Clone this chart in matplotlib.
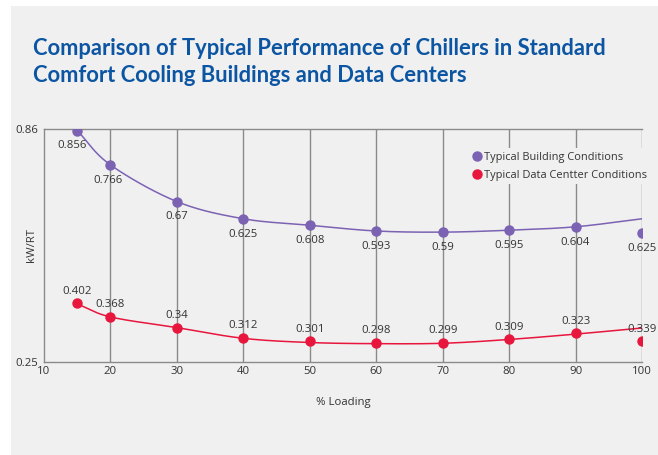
import numpy as np
import matplotlib.pyplot as plt

# data
loading = [15, 20, 30, 40, 50, 60, 70, 80, 90, 100]
building = [0.856, 0.766, 0.67, 0.625, 0.608, 0.593, 0.59, 0.595, 0.604, 0.625]
datacenter = [0.402, 0.368, 0.34, 0.312, 0.301, 0.298, 0.299, 0.309, 0.323, 0.339]
# the last markers in the original sit below the line end
building_markers = [0.856, 0.766, 0.67, 0.625, 0.608, 0.593, 0.59, 0.595, 0.604, 0.587]
datacenter_markers = [0.404, 0.369, 0.34, 0.314, 0.304, 0.301, 0.301, 0.309, 0.325, 0.305]
xticks = [10, 20, 30, 40, 50, 60, 70, 80, 90, 100]
yticks = [0.25, 0.86]

bg = "#f0f0f0"
purple = "#7b62b3"
red = "#e8163c"
grid_c = "#8a8a8a"
text_c = "#333333"
W, H = 658, 455


def smooth(x, y, n=20):
    # catmull-rom through the points, like excel's smoothed line
    x = np.asarray(x, float)
    y = np.asarray(y, float)
    px = np.concatenate([[2 * x[0] - x[1]], x, [2 * x[-1] - x[-2]]])
    py = np.concatenate([[2 * y[0] - y[1]], y, [2 * y[-1] - y[-2]]])
    xs, ys = [], []
    t = np.linspace(0, 1, n)
    for i in range(1, len(px) - 2):
        for p, out in ((px, xs), (py, ys)):
            p0, p1, p2, p3 = p[i - 1], p[i], p[i + 1], p[i + 2]
            out.extend(0.5 * (2 * p1 + (-p0 + p2) * t
                              + (2 * p0 - 5 * p1 + 4 * p2 - p3) * t ** 2
                              + (-p0 + 3 * p1 - 3 * p2 + p3) * t ** 3))
    return xs, ys


plt.rcParams['font.family'] = ['Open Sans', 'DejaVu Sans']

fig = plt.figure(figsize=(W / 100, H / 100), dpi=100, facecolor=bg)
# white strips on top and left of the grey panel
fig.patches.append(plt.Rectangle((0, 0), 11 / W, 1, transform=fig.transFigure,
                                 facecolor="white", edgecolor="none"))
fig.patches.append(plt.Rectangle((0, 1 - 6 / H), 1, 6 / H, transform=fig.transFigure,
                                 facecolor="white", edgecolor="none"))

ax = fig.add_axes([44 / W, 1 - 362 / H, 598 / W, 233 / H])
ax.set_facecolor(bg)

sx, sy = smooth(loading, building)
ax.plot(sx, sy, color=purple, lw=1.1, zorder=3)
sx, sy = smooth(loading, datacenter)
ax.plot(sx, sy, color=red, lw=1.1, zorder=3)

ax.plot(loading, building_markers, "o", color=purple, ms=6.5, zorder=4,
        label="Typical Building Conditions")
ax.plot(loading, datacenter_markers, "o", color=red, ms=6.5, zorder=4,
        label="Typical Data Centter Conditions")

for x, yl, ym in zip(loading, building, building_markers):
    ax.annotate(f"{yl:g}", (x, ym), xytext=(-4 if x < 20 else (-2 if x < 30 else 0), -11),
                textcoords="offset points", ha="center", va="center",
                fontsize=8.2, color=text_c, zorder=5)
for x, yl, ym in zip(loading, datacenter, datacenter_markers):
    ax.annotate(f"{yl:g}", (x, ym), xytext=(0, 8.5),
                textcoords="offset points", ha="center", va="center",
                fontsize=8.2, color=text_c, zorder=5)

ax.set_xlim(10, 100)
ax.set_ylim(0.25, 0.86)
ax.set_xticks(xticks)
ax.set_yticks(yticks)
ax.set_yticklabels([f"{v:g}" for v in yticks])
ax.tick_params(length=0, labelsize=8.2, colors=text_c, pad=4)
ax.tick_params(axis="x", pad=3)
for x in xticks[1:]:
    ax.axvline(x, color=grid_c, lw=1, zorder=1)
for s in ["left", "bottom", "top"]:
    ax.spines[s].set_color(grid_c)
    ax.spines[s].set_linewidth(1)
ax.spines["right"].set_visible(False)

ax.set_xlabel("% Loading", fontsize=8.2, color=text_c, labelpad=14)
ax.set_ylabel("kW/RT", fontsize=8.2, color=text_c)
ax.yaxis.set_label_coords(-7 / 598, 0.5)

leg = ax.legend(loc="upper left", bbox_to_anchor=(464 / W, 1 - 143 / H),
                bbox_transform=fig.transFigure, fontsize=7.9, frameon=True,
                facecolor=bg, edgecolor="none", framealpha=1, borderpad=0.3,
                handlelength=0.8, handletextpad=0.25, labelspacing=0.65,
                labelcolor=text_c, fancybox=False)
leg.set_zorder(6)

fig.text(33 / W, 1 - 38 / H,
         "Comparison of Typical Performance of Chillers in Standard\n"
         "Comfort Cooling Buildings and Data Centers",
         ha="left", va="top", fontsize=15.8, fontweight="bold", color="#0b55a3",
         family="Lato", linespacing=1.33)

fig.savefig("out.png", dpi=100, facecolor=fig.get_facecolor())
